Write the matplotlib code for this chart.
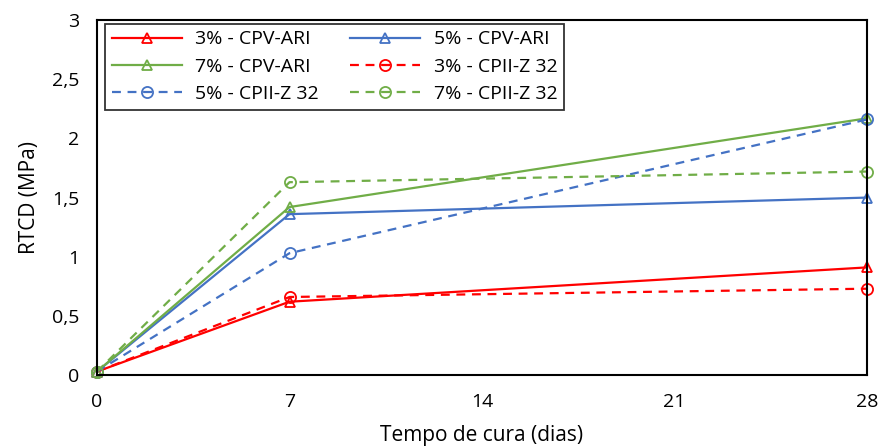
import matplotlib
matplotlib.use("Agg")
import matplotlib.pyplot as plt

plt.rcParams['font.family'] = ['Open Sans', 'DejaVu Sans']

dias = [0, 7, 28]
cpv_3 = [0.03, 0.62, 0.91]
cpv_5 = [0.03, 1.36, 1.50]
cpv_7 = [0.03, 1.42, 2.17]
cpii_3 = [0.03, 0.66, 0.73]
cpii_5 = [0.03, 1.03, 2.16]
cpii_7 = [0.03, 1.63, 1.72]

red = '#FF0000'
blue = '#4472C4'
green = '#70AD47'

fig = plt.figure(figsize=(8.82, 4.46), dpi=100)
ax = fig.add_axes([0.110, 0.159, 0.873, 0.796])

def serie(y, cor, ls, mk, label):
    ms = 7.5 if mk == '^' else 8
    return ax.plot(dias, y, color=cor, ls=ls, marker=mk, mfc='none', mec=cor,
                   ms=ms, mew=1.3, lw=1.6, label=label, clip_on=False)[0]

h1 = serie(cpv_3, red, '-', '^', '3% - CPV-ARI')
h2 = serie(cpv_5, blue, '-', '^', '5% - CPV-ARI')
h3 = serie(cpv_7, green, '-', '^', '7% - CPV-ARI')
h4 = serie(cpii_3, red, (0, (4, 3)), 'o', '3% - CPII-Z 32')
h5 = serie(cpii_5, blue, (0, (4, 3)), 'o', '5% - CPII-Z 32')
h6 = serie(cpii_7, green, (0, (4, 3)), 'o', '7% - CPII-Z 32')

ax.set_xlim(0, 28)
ax.set_ylim(0, 3)
ax.set_xticks([0, 7, 14, 21, 28])
ax.set_xticklabels(['0', '7', '14', '21', '28'])
ax.set_yticks([0, 0.5, 1, 1.5, 2, 2.5, 3])
ax.set_yticklabels(['0', '0,5', '1', '1,5', '2', '2,5', '3'])
ax.tick_params(length=0, labelsize=14)
ax.tick_params(axis='x', pad=13)
ax.tick_params(axis='y', pad=13)
for s in ax.spines.values():
    s.set_linewidth(1.5)
    s.set_color('black')

ax.set_xlabel('Tempo de cura (dias)', fontsize=15, labelpad=10)
ax.set_ylabel('RTCD (MPa)', fontsize=15, labelpad=8)

leg = ax.legend([h1, h3, h5, h2, h4, h6],
                [h.get_label() for h in [h1, h3, h5, h2, h4, h6]],
                ncol=2, loc='upper left', bbox_to_anchor=(0.01, 0.99),
                fontsize=14, frameon=True, fancybox=False, handlelength=3.6,
                columnspacing=1.6, labelspacing=0.48, borderpad=0.35,
                handletextpad=0.7, borderaxespad=0)
leg.get_frame().set_edgecolor('black')
leg.get_frame().set_linewidth(1.3)

fig.savefig('out.png', dpi=100)
